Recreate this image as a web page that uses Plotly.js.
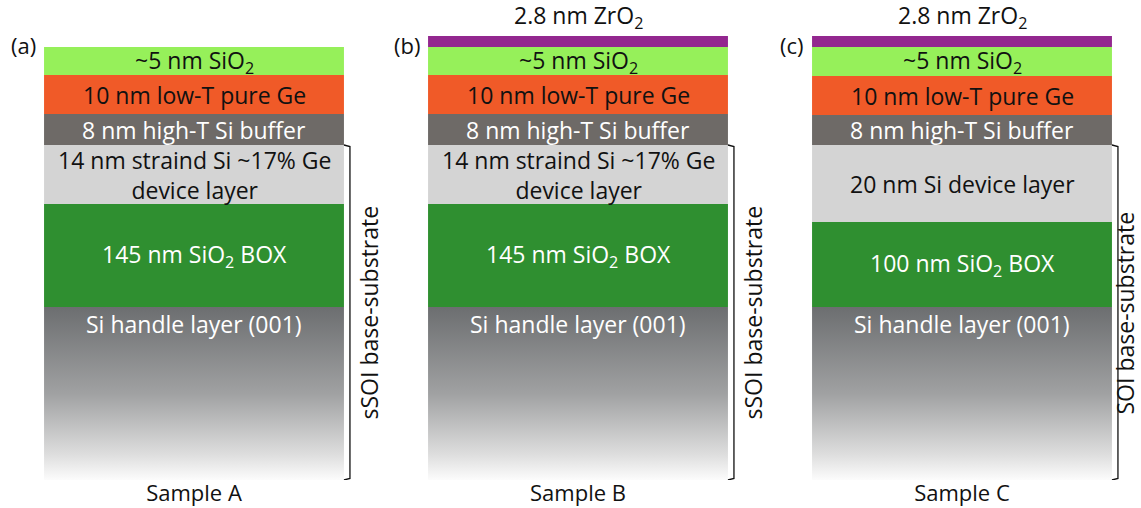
<!DOCTYPE html>
<html>
<head>
<meta charset="utf-8">
<script src="https://cdn.plot.ly/plotly-3.0.1.min.js"></script>
<style>
  html, body { margin: 0; padding: 0; background: #ffffff; }
  #chart { width: 1141px; height: 508px; }
</style>
</head>
<body>
<div id="chart"></div>
<script>
// Samples and their panel tags
const samples = ['Sample A', 'Sample B', 'Sample C'];
const panelTags = ['(a)', '(b)', '(c)'];
const substrateNames = ['sSOI base-substrate', 'sSOI base-substrate', 'SOI base-substrate'];

// Schematic (not to scale) drawn thickness of each layer, per sample
const zro2Height   = [0, 11, 11];
const capHeight    = [28, 28, 29];
const geHeight     = [39, 39, 39];
const bufferHeight = [31, 31, 30];
const deviceHeight = [59, 59, 77];
const boxHeight    = [103, 103, 85];
const handleHeight = [173, 173, 173];

// Layer captions, per sample
const zro2Labels   = ['', '2.8 nm ZrO<sub>2</sub>', '2.8 nm ZrO<sub>2</sub>'];
const capLabels    = ['~5 nm SiO<sub>2</sub>', '~5 nm SiO<sub>2</sub>', '~5 nm SiO<sub>2</sub>'];
const geLabels     = ['10 nm low-T pure Ge', '10 nm low-T pure Ge', '10 nm low-T pure Ge'];
const bufferLabels = ['8 nm high-T Si buffer', '8 nm high-T Si buffer', '8 nm high-T Si buffer'];
const deviceLabels = ['14 nm straind Si ~17% Ge<br>device layer', '14 nm straind Si ~17% Ge<br>device layer', '20 nm Si device layer'];
const boxLabels    = ['145 nm SiO<sub>2</sub> BOX', '145 nm SiO<sub>2</sub> BOX', '100 nm SiO<sub>2</sub> BOX'];
const handleLabels = ['Si handle layer (001)', 'Si handle layer (001)', 'Si handle layer (001)'];

const FONT = 'Open Sans, Noto Sans, sans-serif';
const FS = 23;
const W = 1141;
const xs = samples.map((_, i) => i);
const barWidth = 0.781;
const pxPerX = 384;
const x0px = 194;

// stacked layers below the cap surface (depth 0 = top of the SiO2 cap)
const stack = [
  {h: capHeight,    labels: capLabels,    color: '#96f05a', text: '#111111'},
  {h: geHeight,     labels: geLabels,     color: '#f05a28', text: '#111111'},
  {h: bufferHeight, labels: bufferLabels, color: '#6e6a67', text: '#ffffff'},
  {h: deviceHeight, labels: deviceLabels, color: '#d4d4d4', text: '#111111'},
  {h: boxHeight,    labels: boxLabels,    color: '#2f8f30', text: '#ffffff'}
];

const traces = [];
const annotations = [];
const running = xs.map(() => 0);

// ZrO2 film sits on top of the cap
traces.push({
  type: 'bar', x: xs, y: zro2Height, base: zro2Height.map(v => -v),
  width: barWidth, marker: {color: '#93278f', line: {width: 0}},
  hoverinfo: 'skip', showlegend: false
});
xs.forEach(i => {
  if (zro2Height[i] > 0) {
    annotations.push({
      x: i, y: -zro2Height[i], xref: 'x', yref: 'y', yanchor: 'bottom',
      text: zro2Labels[i], showarrow: false, yshift: 0,
      font: {family: FONT, size: FS, color: '#111111'}
    });
  }
});

stack.forEach(layer => {
  const base = running.slice();
  traces.push({
    type: 'bar', x: xs, y: layer.h, base: base,
    width: barWidth, marker: {color: layer.color, line: {width: 0}},
    hoverinfo: 'skip', showlegend: false
  });
  xs.forEach(i => {
    annotations.push({
      x: i, y: base[i] + layer.h[i] / 2, xref: 'x', yref: 'y',
      text: layer.labels[i], showarrow: false,
      font: {family: FONT, size: FS, color: layer.text}
    });
    running[i] += layer.h[i];
  });
});

// Si handle wafer with a grey gradient fading out towards the bottom
xs.forEach(i => {
  const top = running[i];
  const bot = top + handleHeight[i];
  const l = i - barWidth / 2, r = i + barWidth / 2;
  traces.push({
    type: 'scatter', mode: 'none',
    x: [l, r, r, l, l], y: [top, top, bot, bot, top],
    fill: 'toself',
    fillgradient: {
      type: 'vertical',
      colorscale: [[0, '#fcfcfc'], [0.15, '#dddddd'], [0.5, '#a0a1a2'], [1, '#6c6e70']]
    },
    hoverinfo: 'skip', showlegend: false
  });
  annotations.push({
    x: i, y: top, xref: 'x', yref: 'y', yanchor: 'middle', yshift: -17,
    text: handleLabels[i], showarrow: false,
    font: {family: FONT, size: FS, color: '#ffffff'}
  });
});

// substrate brackets: from the device layer down to the bottom of the handle
xs.forEach(i => {
  const top = capHeight[i] + geHeight[i] + bufferHeight[i];
  const bot = running[i] + handleHeight[i];
  const edge = i + barWidth / 2;
  const bx = edge + 6 / pxPerX;
  traces.push({
    type: 'scatter', mode: 'lines',
    x: [edge, bx, bx, edge], y: [top, top + 1.5, bot - 1.5, bot],
    line: {color: '#111111', width: 1.3},
    hoverinfo: 'skip', showlegend: false, cliponaxis: false
  });
  // keep the rotated caption inside the page on the right-hand panel
  const bpx = x0px + bx * pxPerX;
  const shift = Math.min(19, W - 16 - bpx);
  annotations.push({
    x: bx, y: (top + bot) / 2, xref: 'x', yref: 'y', xshift: shift,
    text: substrateNames[i], textangle: -90, showarrow: false,
    font: {family: FONT, size: FS, color: '#111111'}
  });
  annotations.push({
    x: i - barWidth / 2, y: 0, xref: 'x', yref: 'y', xanchor: 'right',
    xshift: -6, yshift: 2, text: panelTags[i], showarrow: false,
    font: {family: FONT, size: FS - 1, color: '#111111'}
  });
});

const layout = {
  width: W, height: 508,
  margin: {l: 0, r: 0, t: 36, b: 28},
  paper_bgcolor: '#ffffff', plot_bgcolor: '#ffffff',
  barmode: 'overlay',
  showlegend: false,
  xaxis: {
    range: [-x0px / pxPerX, (W - x0px) / pxPerX],
    tickvals: xs, ticktext: samples,
    showgrid: false, zeroline: false, showline: false, ticks: '',
    tickfont: {family: FONT, size: 22, color: '#111111'},
    ticklabelstandoff: -2,
    fixedrange: true
  },
  yaxis: {
    range: [433, -11],
    showgrid: false, zeroline: false, showline: false, showticklabels: false,
    fixedrange: true
  },
  annotations: annotations
};

Plotly.newPlot('chart', traces, layout, {displayModeBar: false, staticPlot: true});
</script>
</body>
</html>
